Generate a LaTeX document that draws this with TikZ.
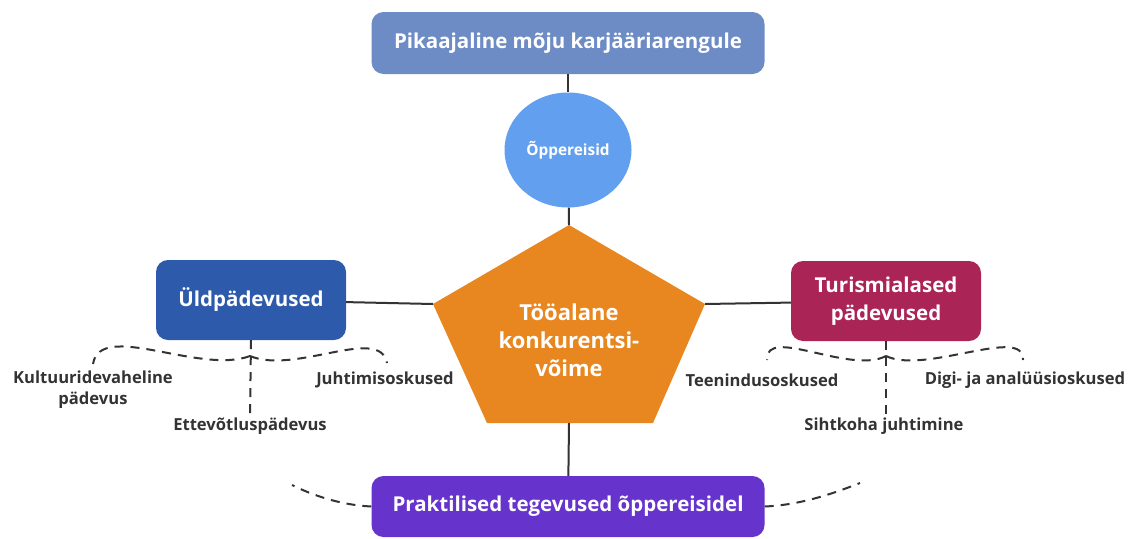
\documentclass[tikz,border=0pt]{standalone}
\usepackage{fontspec}
\setmainfont{Open Sans}
\usetikzlibrary{shapes.geometric}
\definecolor{topblue}{HTML}{6D8BC5}
\definecolor{tripblue}{HTML}{62A0EF}
\definecolor{compor}{HTML}{E8861F}
\definecolor{genblue}{HTML}{2D5AAB}
\definecolor{tourred}{HTML}{AA2455}
\definecolor{practpurple}{HTML}{6633CC}
\definecolor{linegray}{HTML}{333333}
\begin{document}
\begin{tikzpicture}[x=1pt,y=-1pt,
    mainbox/.style={rectangle, rounded corners=12pt, text=white, align=center,
        inner sep=0pt, font=\fontsize{20.5}{25}\selectfont\bfseries},
    sidebox/.style={mainbox, minimum width=190pt, minimum height=80pt,
        font=\fontsize{20.5}{28}\selectfont\bfseries},
    skill/.style={inner sep=0pt, align=center, text=linegray,
        font=\fontsize{16.6}{21}\selectfont\bfseries},
    link/.style={draw=linegray, line width=2pt},
    dlink/.style={draw=linegray, line width=2pt, dash pattern=on 9pt off 7pt}]
    \useasboundingbox (0,0) rectangle (1139,538);

    % top and bottom boxes
    \node (impact) [mainbox, fill=topblue, minimum width=393pt, minimum height=62pt]
        at (568,43) {Pikaajaline mõju karjääriarengule};
    \node (trips) [ellipse, fill=tripblue, text=white, minimum width=127pt, minimum height=115pt,
        inner sep=0pt, font=\fontsize{15.4}{18}\selectfont\bfseries] at (568,150) {Õppereisid};
    \node (practice) [mainbox, fill=practpurple, minimum width=393pt, minimum height=61pt]
        at (568,506.5) {Praktilised tegevused õppereisidel};

    % pentagon
    \coordinate (ptop) at (569,225);
    \coordinate (pleft) at (433,304);
    \coordinate (pright) at (705,304);
    \coordinate (pbl) at (487,423);
    \coordinate (pbr) at (653,423);
    \fill[compor] (ptop) -- (pright) -- (pbr) -- (pbl) -- (pleft) -- cycle;
    \node (comp) [align=center, text=white, font=\fontsize{22}{28}\selectfont\bfseries]
        at (569,340) {Tööalane\\konkurentsi-\\võime};
    \coordinate (pbot) at (569,423);

    % side boxes
    \node (general) [sidebox, fill=genblue] at (251,300) {Üldpädevused};
    \node (tourism) [sidebox, fill=tourred] at (886,301) {Turismialased\\pädevused};

    \path [link] (impact) edge (trips)
                 (trips) edge (ptop)
                 (pbot) edge (practice)
                 (general) edge (pleft)
                 (pright) edge (tourism);

    % general skills
    \node (intercult) [skill] at (93,390) {Kultuuridevaheline\\pädevus};
    \node (lead) [skill] at (385,380) {Juhtimisoskused};
    \node (entre) [skill] at (250,426) {Ettevõtluspädevus};
    \coordinate (gfork) at (250,356);
    \coordinate (gleft) at (93,364);
    \coordinate (gright) at (387,363);
    \draw [dlink] (general.south) -- (entre.north);
    \draw [dlink] (gfork) .. controls (200,375) and (100,320) .. (gleft);
    \draw [dlink] (gfork) .. controls (295,375) and (380,325) .. (gright);

    % tourism skills
    \node (service) [skill] at (762,380) {Teenindusoskused};
    \node (digital) [skill] at (1025,380) {Digi- ja analüüsioskused};
    \node (destin) [skill] at (884,426) {Sihtkoha juhtimine};
    \coordinate (tfork) at (886,356);
    \coordinate (tleft) at (767,360);
    \coordinate (tright) at (1023,360);
    \draw [dlink] (tourism.south) -- (destin.north -| tourism.south);
    \draw [dlink] (tfork) .. controls (850,375) and (765,325) .. (tleft);
    \draw [dlink] (tfork) .. controls (925,375) and (1025,325) .. (tright);

    % practice curves
    \coordinate (cleft) at (292,485);
    \coordinate (cright) at (860,483);
    \draw [dlink] (practice.west) .. controls (340,505) and (312,495) .. (cleft);
    \draw [dlink] (practice.east) .. controls (800,505) and (832,494) .. (cright);
\end{tikzpicture}
\end{document}
